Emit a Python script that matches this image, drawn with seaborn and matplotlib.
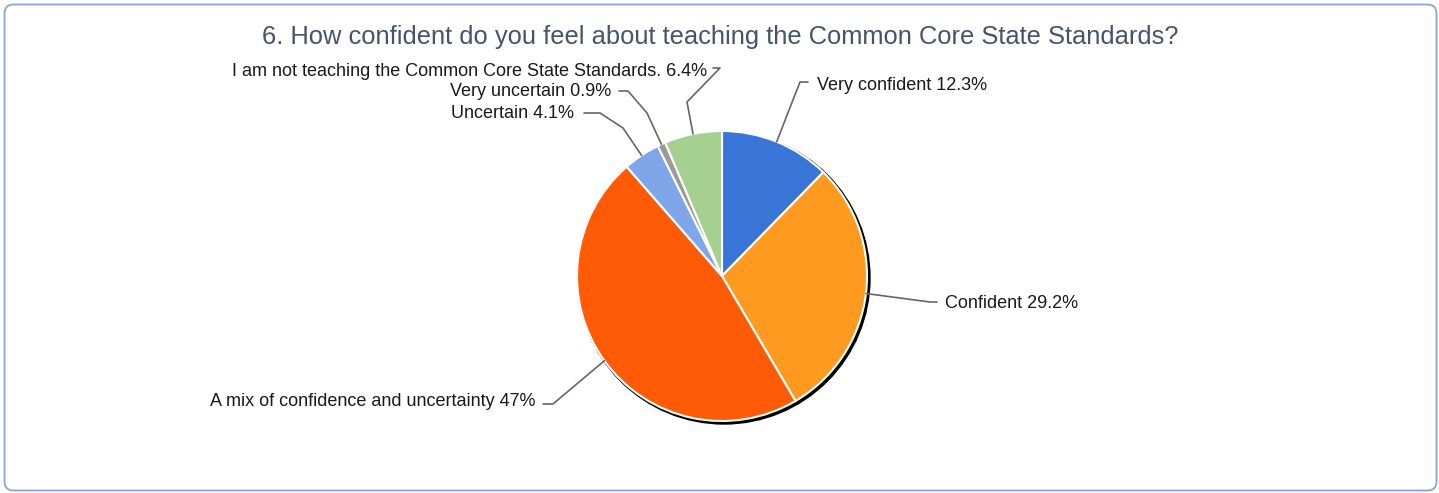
import numpy as np
import matplotlib
matplotlib.use("Agg")
import matplotlib.pyplot as plt
import seaborn as sns
from matplotlib.patches import Circle, FancyBboxPatch

# data
categories = ["Very confident", "Confident", "A mix of confidence and uncertainty",
              "Uncertain", "Very uncertain",
              "I am not teaching the Common Core State Standards."]
shares = [12.3, 29.2, 47, 4.1, 0.9, 6.4]
share_labels = ["12.3%", "29.2%", "47%", "4.1%", "0.9%", "6.4%"]
colors = ["#3875d7", "#ff9a20", "#ff5a05", "#7ea6e8", "#9a9a9a", "#a6d08f"]

sns.set_style("white")
plt.rcParams['font.family'] = ['Liberation Sans', 'DejaVu Sans']

W, H = 1439, 493
fig = plt.figure(figsize=(W / 100, H / 100), dpi=100)
ax = fig.add_axes([0, 0, 1, 1])

cx, cy, r = 722, 276, 145

# shadow behind the pie
ax.add_patch(Circle((cx + 2, cy + 2), r + 1, color="black", zorder=1))

wedges, _ = ax.pie(shares, colors=colors, startangle=-90, counterclock=True,
                   center=(cx, cy), radius=r,
                   wedgeprops=dict(edgecolor="white", linewidth=1.5, zorder=2))

ax.set_xlim(0, W)
ax.set_ylim(H, 0)
ax.axis("off")

# label layout: text anchor, alignment, elbow points (pixels)
layout = [
    ((817, 85), "left", [(800, 82), (808, 82)]),
    ((945, 303), "left", [(930, 302), (937, 302)]),
    ((535, 402), "right", [(553, 404), (543, 404)]),
    ((574, 114), "right", [(623, 128), (600, 113), (584, 113)]),
    ((611, 92), "right", [(647, 113), (628, 91), (619, 91)]),
    ((707, 71), "right", [(687, 102), (720, 68), (713, 68)]),
]

for w, cat, lab, (pos, ha, elbow) in zip(wedges, categories, share_labels, layout):
    ang = np.deg2rad((w.theta1 + w.theta2) / 2)
    anchor = (cx + r * np.cos(ang), cy + r * np.sin(ang))
    xs, ys = zip(*([anchor] + elbow))
    ax.plot(xs, ys, color="#666666", linewidth=1.2, zorder=3)
    ax.text(pos[0], pos[1], f"{cat} {lab}", ha=ha, va="center",
            fontsize=13, color="#1a1a1a", zorder=4)

ax.text(W / 2 + 1, 37, "6. How confident do you feel about teaching the Common Core State Standards?",
        ha="center", va="center", fontsize=18.4, color="#44546a")

border = FancyBboxPatch((4.5, 4.5), W - 7, H - 7,
                        boxstyle="round,pad=0,rounding_size=9",
                        facecolor="none", edgecolor="#8aa7d4", linewidth=1.3, zorder=5)
ax.add_patch(border)

fig.savefig("out.png", dpi=100)
plt.close(fig)
